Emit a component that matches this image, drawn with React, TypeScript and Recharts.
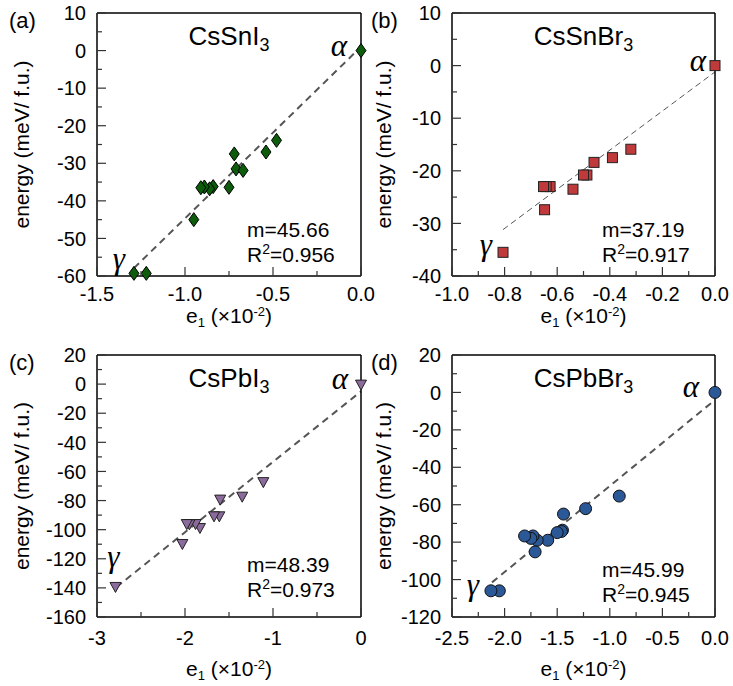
import React from 'react';
import { ScatterChart, Scatter, XAxis, YAxis, ReferenceLine, ReferenceDot, Customized } from 'recharts';

const FONT = '"Liberation Sans", Arial, Helvetica, sans-serif';
const GREEK = '"Liberation Serif", "DejaVu Serif", serif';

// (a) CsSnI3
const snIStrain = [0, -0.48, -0.54, -0.72, -0.71, -0.67, -0.75, -0.84, -0.86, -0.89, -0.91, -0.95, -1.22, -1.29];
const snIEnergy = [0, -23.9, -27.0, -27.5, -31.5, -31.9, -36.4, -36.2, -36.8, -36.3, -36.5, -45.0, -59.3, -59.3];
// (b) CsSnBr3
const snBrStrain = [0, -0.32, -0.39, -0.46, -0.487, -0.5, -0.54, -0.627, -0.642, -0.652, -0.648, -0.806];
const snBrEnergy = [0, -15.9, -17.5, -18.4, -20.8, -20.8, -23.5, -23.0, -23.0, -23.0, -27.4, -35.5];
// (c) CsPbI3
const pbIStrain = [0, -1.11, -1.35, -1.6, -1.61, -1.67, -1.83, -1.88, -1.95, -1.98, -2.03, -2.79];
const pbIEnergy = [0, -67, -77, -79, -90.5, -90.5, -98.5, -95.8, -96, -95.8, -109.5, -139];
// (d) CsPbBr3
const pbBrStrain = [0, -0.91, -1.23, -1.44, -1.45, -1.46, -1.5, -1.59, -1.69, -1.73, -1.75, -1.81, -1.71, -2.05, -2.13];
const pbBrEnergy = [0, -55.4, -62.1, -65, -73.6, -74.3, -74.9, -79, -79, -76.7, -78, -76.7, -85.2, -106, -106];

// tick labels
const xTicksA = [-1.5, -1.25, -1, -0.75, -0.5, -0.25, 0];
const xMajorA = [-1.5, -1, -0.5, 0];
const yTicksA = [10, 5, 0, -5, -10, -15, -20, -25, -30, -35, -40, -45, -50, -55, -60];
const yMajorA = [10, 0, -10, -20, -30, -40, -50, -60];
const xTicksB = [-1, -0.9, -0.8, -0.7, -0.6, -0.5, -0.4, -0.3, -0.2, -0.1, 0];
const xMajorB = [-1, -0.8, -0.6, -0.4, -0.2, 0];
const yTicksB = [10, 5, 0, -5, -10, -15, -20, -25, -30, -35, -40];
const yMajorB = [10, 0, -10, -20, -30, -40];
const xTicksC = [-3, -2.5, -2, -1.5, -1, -0.5, 0];
const xMajorC = [-3, -2, -1, 0];
const yTicksC = [20, 10, 0, -10, -20, -30, -40, -50, -60, -70, -80, -90, -100, -110, -120, -130, -140, -150, -160];
const yMajorC = [20, 0, -20, -40, -60, -80, -100, -120, -140, -160];
const xTicksD = [-2.5, -2.25, -2, -1.75, -1.5, -1.25, -1, -0.75, -0.5, -0.25, 0];
const xMajorD = [-2.5, -2, -1.5, -1, -0.5, 0];
const yTicksD = [20, 10, 0, -10, -20, -30, -40, -50, -60, -70, -80, -90, -100, -110, -120];
const yMajorD = [20, 0, -20, -40, -60, -80, -100, -120];

const near = (list: number[], v: number) => list.some((t) => Math.abs(t - v) < 1e-6);

const makeTick = (side: string, majors: number[], fmt: (v: number) => string, drop = 26) => (props: any) => {
  const { x, y, payload } = props;
  const v = payload.value;
  const major = near(majors, v);
  const len = major ? 9 : 5;
  let line = null;
  let label = null;
  if (side === 'left') {
    line = <line x1={x} y1={y} x2={x + len} y2={y} />;
    if (major) label = <text x={x - 11} y={y} dy="0.36em" textAnchor="end">{fmt(v)}</text>;
  } else if (side === 'right') {
    line = <line x1={x} y1={y} x2={x - len} y2={y} />;
  } else if (side === 'bottom') {
    line = <line x1={x} y1={y} x2={x} y2={y - len} />;
    if (major) label = <text x={x} y={y + drop} textAnchor="middle">{fmt(v)}</text>;
  } else {
    line = <line x1={x} y1={y} x2={x} y2={y + len} />;
  }
  return (
    <g>
      <g stroke="#333" strokeWidth={1.2}>{line}</g>
      {label && <g fill="#000" fontSize={20} fontFamily={FONT}>{label}</g>}
    </g>
  );
};

const Diamond = (p: any) => (
  <polygon points={`${p.cx},${p.cy - 7} ${p.cx + 5},${p.cy} ${p.cx},${p.cy + 7} ${p.cx - 5},${p.cy}`} fill="#0c5c0c" stroke="#000" strokeWidth={1} />
);
const Square = (p: any) => (
  <rect x={p.cx - 5} y={p.cy - 5} width={10} height={10} fill="#c03a3c" stroke="#222" strokeWidth={1} />
);
const TriDown = (p: any) => (
  <polygon points={`${p.cx - 5.5},${p.cy - 4} ${p.cx + 5.5},${p.cy - 4} ${p.cx},${p.cy + 6}`} fill="#8b6b9c" stroke="#222" strokeWidth={1} />
);
const Circle = (p: any) => (
  <circle cx={p.cx} cy={p.cy} r={6} fill="#2b5896" stroke="#111" strokeWidth={1} />
);

const greek = (ch: string, dx: number, dy: number, anchor = 'end') => ({
  content: (p: any) => (
    <text x={p.viewBox.x + dx} y={p.viewBox.y + dy} textAnchor={anchor} fontFamily={GREEK} fontStyle="italic" fontSize={31} fill="#000">
      {ch}
    </text>
  ),
});

interface PanelProps {
  letter: string;
  title: string;
  plotLeft: number;
  plotTop: number;
  w: number;
  h: number;
  xs: number[];
  ys: number[];
  xDomain: [number, number];
  yDomain: [number, number];
  xTicks: number[];
  xMajor: number[];
  yTicks: number[];
  yMajor: number[];
  xFmt: (v: number) => string;
  slope: number;
  intercept: number;
  fitFrom: number;
  fitWidth: number;
  fitDash: string;
  shape: (p: any) => React.ReactElement;
  r2: string;
  statsUp: number;
  alphaPos: [number, number];
  gammaPos: [number, number, string];
  gammaIndex: number;
  yTitleGap: number;
  letterGap: number;
  tickDrop: number;
  xTitleDrop: number;
}

const Panel: React.FC<PanelProps> = (p) => {
  const data = p.xs.map((x, i) => ({ x, y: p.ys[i] }));
  const width = 100 + p.w + 30;
  const height = 13 + p.h + 68;
  const L = 100;
  const T = 13;
  const B = T + p.h;
  const cx = L + p.w / 2;
  const cy = T + p.h / 2;
  const yt = L - p.yTitleGap;
  const sub = p.title.slice(-1);
  const main = p.title.slice(0, -1);
  const texts = () => (
    <g fontFamily={FONT} fill="#000">
      <text x={L - p.letterGap} y={T + 15} fontSize={22}>({p.letter})</text>
      <text x={cx} y={T + 32} fontSize={26} textAnchor="middle">
        {main}
        <tspan dy={6} fontSize={18}>{sub}</tspan>
      </text>
      <text x={L + 150} y={B - 14 - p.statsUp} fontSize={21}>
        R<tspan dy={-8} fontSize={14}>2</tspan>
        <tspan dy={8}>={p.r2}</tspan>
      </text>
      <text x={L + 150} y={B - 39 - p.statsUp} fontSize={21}>m={p.slope.toFixed(2)}</text>
      <text x={yt} y={cy} fontSize={21} textAnchor="middle" transform={`rotate(-90, ${yt}, ${cy})`}>
        energy (meV/ f.u.)
      </text>
      <text x={cx} y={B + p.xTitleDrop} fontSize={21} textAnchor="middle">
        e<tspan dy={4} fontSize={13}>1</tspan>
        <tspan dy={-4}> (×10</tspan>
        <tspan dy={-7} fontSize={13}>-2</tspan>
        <tspan dy={7}>)</tspan>
      </text>
    </g>
  );
  const last = data[p.gammaIndex];
  return (
    <div style={{ position: 'absolute', left: p.plotLeft - 100, top: p.plotTop - 13 }}>
      <ScatterChart width={width} height={height} margin={{ top: 12, right: 29, left: 40, bottom: 0 }}>
        <XAxis xAxisId="b" type="number" dataKey="x" domain={p.xDomain} ticks={p.xTicks} interval={0} height={68}
          tickSize={0} tickMargin={0} tickLine={false} axisLine={{ stroke: '#000', strokeWidth: 1.5 }}
          tick={makeTick('bottom', p.xMajor, p.xFmt, p.tickDrop)} />
        <XAxis xAxisId="t" type="number" orientation="top" domain={p.xDomain} ticks={p.xTicks} interval={0} height={1}
          tickSize={0} tickMargin={0} tickLine={false} axisLine={{ stroke: '#000', strokeWidth: 1.5 }}
          tick={makeTick('top', p.xMajor, p.xFmt)} />
        <YAxis yAxisId="l" type="number" dataKey="y" domain={p.yDomain} ticks={p.yTicks} interval={0} width={60}
          tickSize={0} tickMargin={0} tickLine={false} axisLine={{ stroke: '#000', strokeWidth: 1.5 }}
          tick={makeTick('left', p.yMajor, (v) => String(v))} />
        <YAxis yAxisId="r" type="number" orientation="right" domain={p.yDomain} ticks={p.yTicks} interval={0} width={1}
          tickSize={0} tickMargin={0} tickLine={false} axisLine={{ stroke: '#000', strokeWidth: 1.5 }}
          tick={makeTick('right', p.yMajor, (v) => String(v))} />
        <ReferenceLine xAxisId="b" yAxisId="l" ifOverflow="visible"
          segment={[{ x: p.fitFrom, y: p.slope * p.fitFrom + p.intercept }, { x: 0, y: p.intercept }]}
          stroke="#555" strokeWidth={p.fitWidth} strokeDasharray={p.fitDash} />
        <Scatter xAxisId="b" yAxisId="l" data={data} shape={p.shape} isAnimationActive={false} />
        <ReferenceDot xAxisId="b" yAxisId="l" x={data[0].x} y={data[0].y} r={0} stroke="none" ifOverflow="visible"
          label={greek('α', p.alphaPos[0], p.alphaPos[1])} />
        <ReferenceDot xAxisId="b" yAxisId="l" x={last.x} y={last.y} r={0} stroke="none" ifOverflow="visible"
          label={greek('γ', p.gammaPos[0], p.gammaPos[1], p.gammaPos[2])} />
        <Customized component={texts} />
      </ScatterChart>
    </div>
  );
};

export default function App() {
  return (
    <div style={{ position: 'absolute', left: 0, top: 0, width: 733, height: 686, background: '#fff' }}>
      <Panel letter="a" title="CsSnI3" plotLeft={97} plotTop={13} w={264} h={263}
        xs={snIStrain} ys={snIEnergy} xDomain={[-1.5, 0]} yDomain={[-60, 10]}
        xTicks={xTicksA} xMajor={xMajorA} yTicks={yTicksA} yMajor={yMajorA} xFmt={(v) => v.toFixed(1)}
        slope={45.66} intercept={1.0} fitFrom={-1.29} fitWidth={2} fitDash="7 5" shape={Diamond}
        r2="0.956" statsUp={0} alphaPos={[-14, 5]} gammaPos={[-9, -4, 'end']} gammaIndex={13}
        yTitleGap={68} letterGap={88} tickDrop={25} xTitleDrop={47} />
      <Panel letter="b" title="CsSnBr3" plotLeft={452} plotTop={13} w={263} h={263}
        xs={snBrStrain} ys={snBrEnergy} xDomain={[-1, 0]} yDomain={[-40, 10]}
        xTicks={xTicksB} xMajor={xMajorB} yTicks={yTicksB} yMajor={yMajorB} xFmt={(v) => v.toFixed(1)}
        slope={37.19} intercept={-1.2} fitFrom={-0.806} fitWidth={1} fitDash="6 4" shape={Square}
        r2="0.917" statsUp={0} alphaPos={[-9, 5]} gammaPos={[-11, 3, 'end']} gammaIndex={11}
        yTitleGap={61} letterGap={81} tickDrop={25} xTitleDrop={47} />
      <Panel letter="c" title="CsPbI3" plotLeft={97} plotTop={355} w={264} h={262}
        xs={pbIStrain} ys={pbIEnergy} xDomain={[-3, 0]} yDomain={[-160, 20]}
        xTicks={xTicksC} xMajor={xMajorC} yTicks={yTicksC} yMajor={yMajorC} xFmt={(v) => String(v)}
        slope={48.39} intercept={-5} fitFrom={-2.78} fitWidth={2} fitDash="7 5" shape={TriDown}
        r2="0.973" statsUp={6} alphaPos={[-13, 5]} gammaPos={[-2, -19, 'middle']} gammaIndex={11}
        yTitleGap={68} letterGap={88} tickDrop={28} xTitleDrop={59} />
      <Panel letter="d" title="CsPbBr3" plotLeft={452} plotTop={355} w={263} h={262}
        xs={pbBrStrain} ys={pbBrEnergy} xDomain={[-2.5, 0]} yDomain={[-120, 20]}
        xTicks={xTicksD} xMajor={xMajorD} yTicks={yTicksD} yMajor={yMajorD} xFmt={(v) => v.toFixed(1)}
        slope={45.99} intercept={-4} fitFrom={-2.12} fitWidth={2} fitDash="7 5" shape={Circle}
        r2="0.945" statsUp={1} alphaPos={[-16, 5]} gammaPos={[-12, 4, 'end']} gammaIndex={14}
        yTitleGap={61} letterGap={81} tickDrop={28} xTitleDrop={59} />
    </div>
  );
}
